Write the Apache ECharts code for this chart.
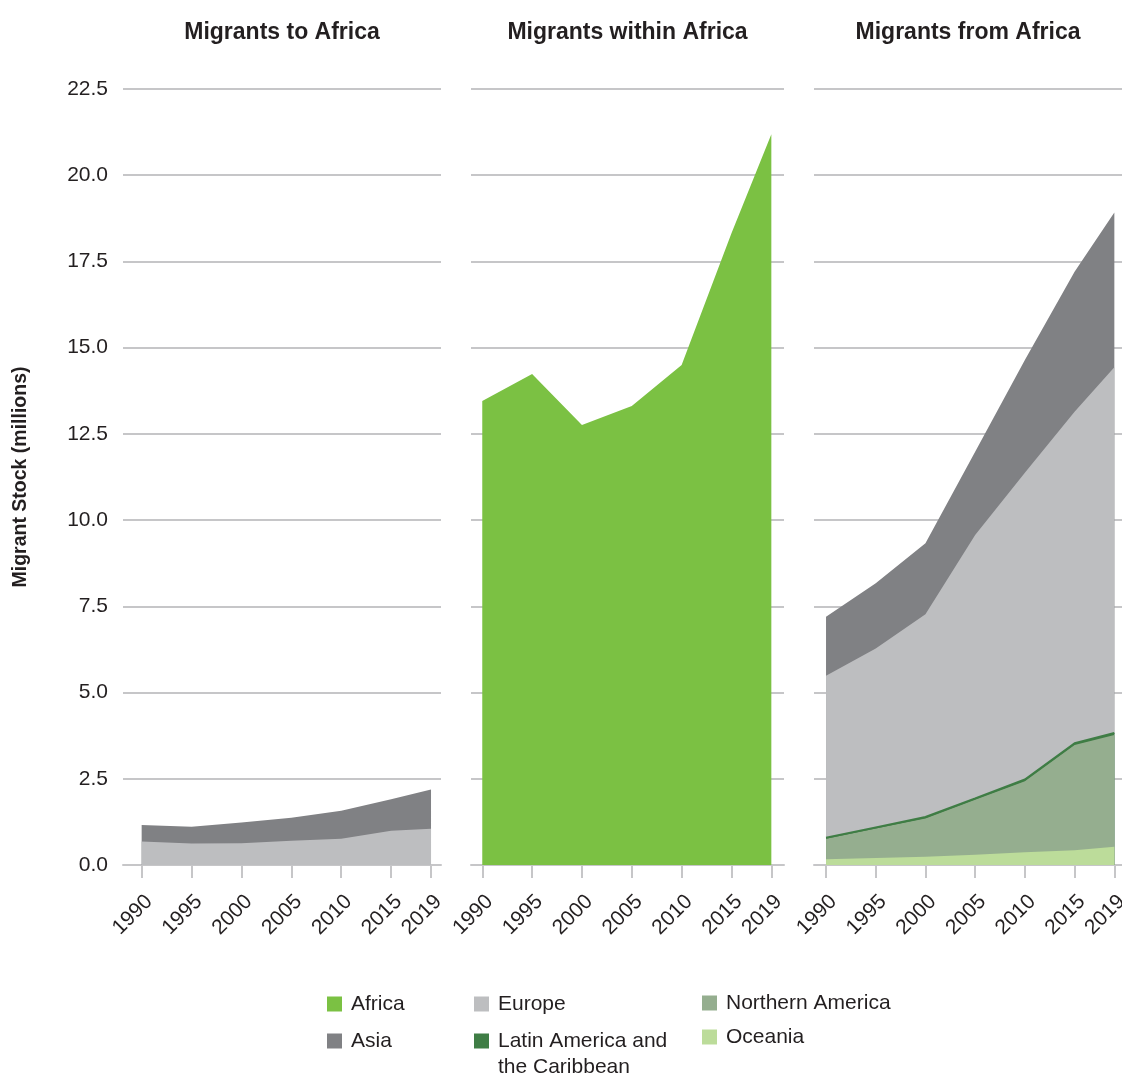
<!DOCTYPE html>
<html>
<head>
<meta charset="utf-8">
<script src="https://cdn.jsdelivr.net/npm/echarts@6/dist/echarts.min.js"></script>
<style>
  html, body { margin: 0; padding: 0; background: #fff; }
  #chart { width: 1122px; height: 1074px; }
</style>
</head>
<body>
<div id="chart"></div>
<script>
// 年份（2015 到 2019 只差 4 年，所以用数值轴按比例摆放）
var years = [1990, 1995, 2000, 2005, 2010, 2015, 2019];

// Migrants to Africa
var toEurope = [0.68, 0.62, 0.63, 0.70, 0.76, 0.99, 1.05];
var toAsia = [0.48, 0.49, 0.60, 0.67, 0.81, 0.92, 1.14];

// Migrants within Africa
var withinAfrica = [13.45, 14.24, 12.76, 13.31, 14.50, 18.32, 21.19];

// Migrants from Africa
var fromOceania = [0.17, 0.20, 0.24, 0.30, 0.37, 0.43, 0.53];
var fromNorthAmerica = [0.59, 0.86, 1.11, 1.59, 2.06, 3.05, 3.24];
var fromLatinAmerica = [0.03, 0.03, 0.04, 0.04, 0.05, 0.05, 0.06];
var fromEurope = [4.70, 5.19, 5.88, 7.64, 8.89, 9.61, 10.60];
var fromAsia = [1.71, 1.89, 2.06, 2.41, 3.27, 4.06, 4.49];

var panelTitles = ['Migrants to Africa', 'Migrants within Africa', 'Migrants from Africa'];

var colors = {
  'Africa': '#7bc143',
  'Asia': '#808184',
  'Europe': '#bdbec0',
  'Latin America and the Caribbean': '#3f7d45',
  'Northern America': '#95ae8f',
  'Oceania': '#bcdc9a'
};

var textColor = '#231f20';
var gridColor = '#c6c6c8';
var fontFamily = '"Liberation Sans", Arial, sans-serif';

var grids = [
  { left: 123, top: 89, width: 318, height: 776, min: 1988.13, max: 2020.0 },
  { left: 471, top: 89, width: 313, height: 776, min: 1988.87, max: 2020.27 },
  { left: 814, top: 89, width: 308, height: 776, min: 1988.79, max: 2019.77 }
];

var chart = echarts.init(document.getElementById('chart'));

/* 堆叠：自下而上累加，返回每层顶部 */
function stackUp(layers) {
  var acc = years.map(function () { return 0; });
  return layers.map(function (vals) {
    acc = acc.map(function (a, i) { return +(a + vals[i]).toFixed(3); });
    return acc.slice();
  });
}
function pairs(vals) {
  return years.map(function (y, i) { return [y, vals[i]]; });
}

function xAxis(i) {
  var g = grids[i];
  return {
    type: 'value',
    gridIndex: i,
    min: g.min,
    max: g.max,
    splitLine: { show: false },
    axisLine: { show: true, lineStyle: { color: gridColor, width: 2 } },
    axisTick: {
      show: true, length: 13,
      customValues: years,
      lineStyle: { color: gridColor, width: 2 }
    },
    axisLabel: {
      customValues: years,
      rotate: 45,
      margin: 26,
      verticalAlign: 'top',
      fontSize: 21,
      color: textColor,
      fontFamily: fontFamily,
      formatter: function (v) { return String(v); }
    }
  };
}

function yAxis(i) {
  var ax = {
    type: 'value',
    gridIndex: i,
    min: 0,
    max: 22.5,
    interval: 2.5,
    axisLine: { show: false },
    axisTick: { show: false },
    splitLine: { show: true, lineStyle: { color: gridColor, width: 2 } },
    axisLabel: {
      show: i === 0,
      margin: 15,
      fontSize: 21,
      color: textColor,
      fontFamily: fontFamily,
      formatter: function (v) { return v.toFixed(1); }
    }
  };
  if (i === 0) {
    ax.name = 'Migrant Stock (millions)';
    ax.nameLocation = 'middle';
    ax.nameGap = 92;
    ax.nameTextStyle = { fontSize: 19.5, fontWeight: 'bold', color: textColor, fontFamily: fontFamily };
  }
  return ax;
}

function area(name, tops, idx, extra) {
  var s = {
    name: name,
    type: 'line',
    xAxisIndex: idx,
    yAxisIndex: idx,
    symbol: 'none',
    silent: true,
    lineStyle: { width: 0 },
    itemStyle: { color: colors[name] },
    areaStyle: { color: colors[name], opacity: 1, origin: 0 },
    data: pairs(tops)
  };
  if (extra) Object.assign(s, extra);
  return s;
}

var legendText = { fontSize: 21, lineHeight: 22, color: textColor, fontFamily: fontFamily, padding: [0, 0, 0, 4] };
function legend(left, top, gap, names, textStyle, formatter) {
  var l = {
    orient: 'vertical',
    left: left,
    top: top,
    padding: 0,
    itemGap: gap,
    itemWidth: 15,
    itemHeight: 15,
    icon: 'rect',
    selectedMode: false,
    itemStyle: { borderWidth: 0 },
    textStyle: textStyle || legendText,
    data: names
  };
  if (formatter) l.formatter = formatter;
  return l;
}

var toTops = stackUp([toEurope, toAsia]);
var fromTops = stackUp([fromOceania, fromNorthAmerica, fromLatinAmerica, fromEurope, fromAsia]);

var option = {
  animation: false,
  title: panelTitles.map(function (t, i) {
    return {
      text: t,
      left: grids[i].left + grids[i].width / 2,
      top: 21,
      padding: 0,
      textAlign: 'center',
      textStyle: { fontSize: 23, fontWeight: 'bold', color: textColor, fontFamily: fontFamily }
    };
  }),
  legend: [
    legend(327, 993, 15, ['Africa', 'Asia']),
    legend(474, 993, 15, ['Europe']),
    legend(474, 1002, 15, ['Latin America and the Caribbean'],
      { fontSize: 21, lineHeight: 26, color: textColor, fontFamily: fontFamily, padding: [0, 0, 0, 4] },
      function () { return '\nLatin America and\nthe Caribbean'; }),
    legend(702, 992, 12, ['Northern America', 'Oceania'])
  ],
  grid: grids.map(function (g) {
    return { left: g.left, top: g.top, width: g.width, height: g.height, outerBoundsMode: 'none', containLabel: false };
  }),
  xAxis: [xAxis(0), xAxis(1), xAxis(2)],
  yAxis: [yAxis(0), yAxis(1), yAxis(2)],
  // 先画最高的一层，下面的层盖在上面
  series: [
    area('Asia', toTops[1], 0),
    area('Europe', toTops[0], 0),

    area('Africa', withinAfrica, 1),

    area('Asia', fromTops[4], 2),
    area('Europe', fromTops[3], 2),
    area('Latin America and the Caribbean', fromTops[2], 2, {
      lineStyle: { width: 2, color: colors['Latin America and the Caribbean'] },
      z: 3
    }),
    area('Northern America', fromTops[1], 2),
    area('Oceania', fromTops[0], 2)
  ]
};

chart.setOption(option);
window.addEventListener('resize', function () { chart.resize(); });
</script>
</body>
</html>
